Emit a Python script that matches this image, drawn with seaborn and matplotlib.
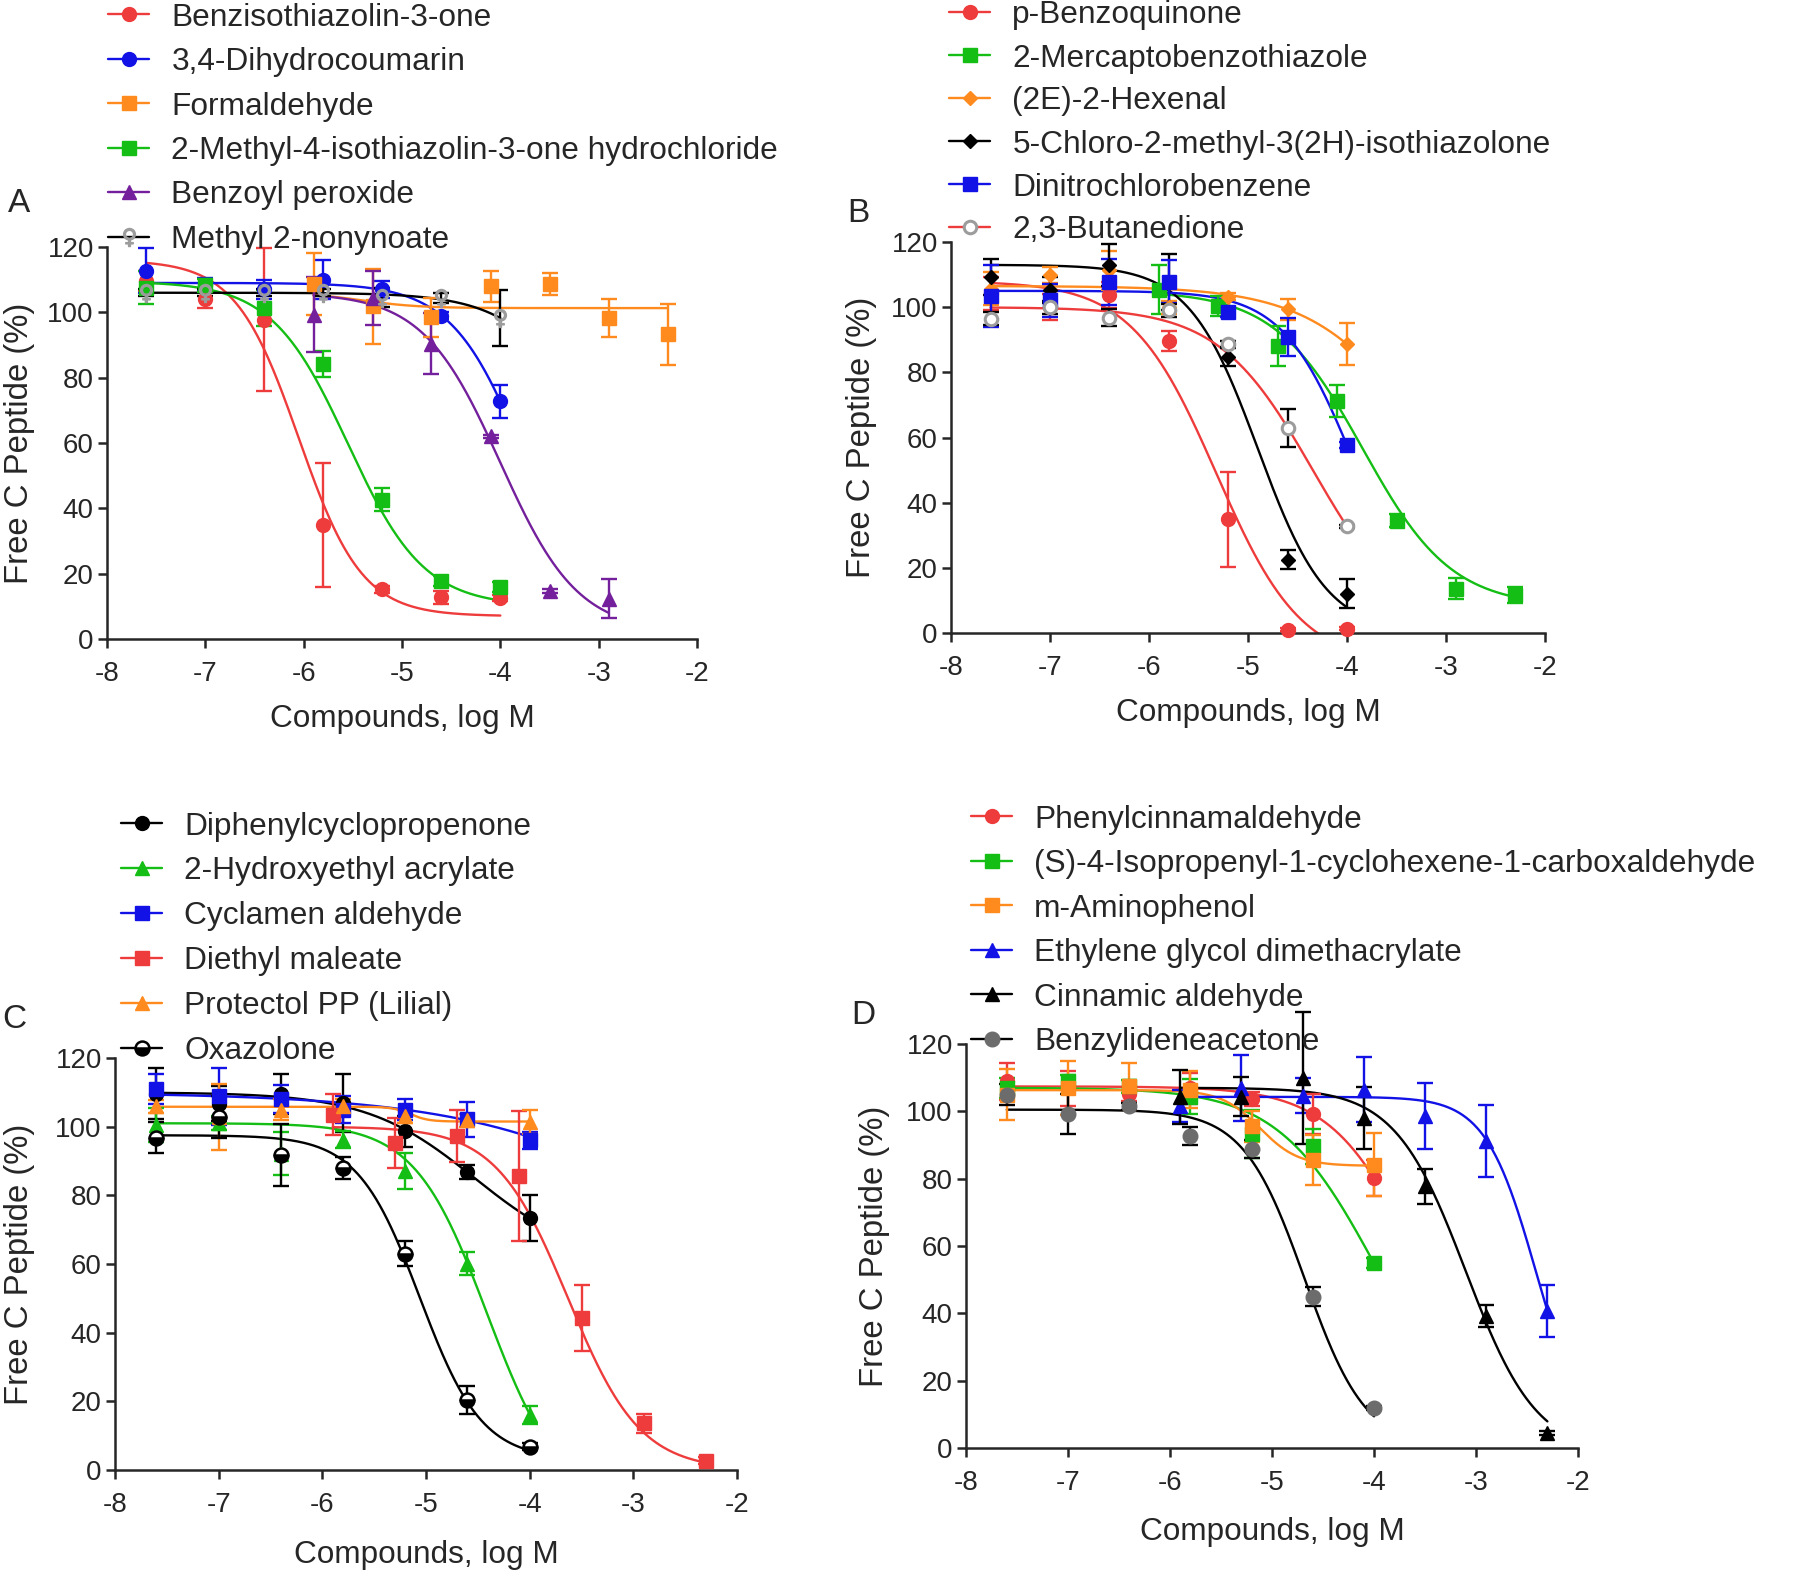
import matplotlib
matplotlib.use("Agg")

import matplotlib.pyplot as plt
from matplotlib.lines import Line2D
import numpy as np
import seaborn as sns

# concentration grids (log M)
x_std = [-7.6, -7.0, -6.4, -5.8, -5.2, -4.6, -4.0]
x_hi = [-5.9, -5.3, -4.7, -4.1, -3.5, -2.9, -2.3]

# fit parameters are (top, bottom, logIC50, hill)
# ---- panel A
bit_y = [109.5, 104.2, 97.8, 34.9, 15.2, 12.8, 12.6]
bit_err = [3, 3, 22, 19, 1, 2, 1]
bit_fit = (116, 7, -6.05, 1.35)
dhc_y = [112.8, 108.5, 107, 110, 107, 99, 72.8]
dhc_err = [7, 2, 3, 6, 2.5, 1, 5]
dhc_fit = (109, 0, -3.74, 1.16)
form_y = [108.7, 101.8, 98.5, 108, 108.7, 98.3, 93.3]
form_err = [9.5, 11.5, 6, 4.8, 3.3, 5.7, 9.3]
form_fit = (106, 101.3, -5.4, 1.5)
mit_y = [107.5, 108.3, 101.3, 84.1, 42.6, 17.7, 16]
mit_err = [5, 2, 5.5, 4, 3.5, 1.5, 1.5]
mit_fit = (109.5, 10, -5.55, 1.12)
bpo_x = [-5.9, -5.3, -4.7, -4.1, -3.5, -2.9]
bpo_y = [99.3, 104.4, 90.4, 62, 14.7, 12.3]
bpo_err = [11.4, 8.2, 9.3, 0.5, 0.5, 6]
bpo_fit = (106, 2, -4.0, 1.1)
mno_y = [106, 106, 106, 106, 104.5, 104.5, 98.3]
mno_err = [1, 1, 1, 1, 3, 1.5, 8.5]
mno_fit = (106, 0, -2.9, 1.0)

# ---- panel B
pbq_y = [104.2, 100.1, 103.7, 89.7, 34.9, 1.0, 1.3]
pbq_err = [5, 4, 4, 3, 14.5, 0.5, 0.5]
pbq_fit = (108, -10, -5.32, 1.01)
mbt_y = [105.4, 100.3, 88.1, 71.2, 34.4, 13.6, 11.7]
mbt_err = [7.5, 3, 6.2, 5, 2, 3.3, 2.5]
mbt_fit = (105, 8, -3.84, 0.97)
hex_y = [105.7, 109.8, 111.3, 99.9, 103.2, 99.3, 88.6]
hex_err = [5, 2.5, 6, 2, 1, 3.3, 6.4]
hex_fit = (106.5, 0, -3.06, 0.74)
cmi_y = [109.3, 105.2, 112.9, 107.8, 84.8, 22.5, 12.1]
cmi_err = [5.5, 4, 6.5, 8.6, 3, 3, 4.4]
cmi_fit = (113, 0, -4.9, 1.25)
dncb_y = [103.4, 102.1, 107.8, 107.8, 98.6, 90.9, 57.7]
dncb_err = [9.5, 5, 7, 6.6, 1.5, 5.8, 1]
dncb_fit = (105, 0, -3.93, 1.21)
btd_y = [96.5, 100, 96.8, 99, 88.6, 63, 32.7]
btd_err = [2, 2, 2.5, 2, 1, 5.9, 0.5]
btd_fit = (100, 0, -4.345, 0.91)

# ---- panel C
dpcp_y = [109.6, 106.7, 109.6, 106.9, 98.6, 86.8, 73.4]
dpcp_err = [7.5, 5, 5.8, 8.5, 4.4, 1.9, 6.7]
dpcp_fit = (110, 60, -4.53, 0.83)
hea_y = [100.4, 101, 92.1, 96.2, 87.1, 60.1, 16.0]
hea_err = [5, 2, 6.3, 2.5, 5.3, 3.3, 2.5]
hea_fit = (101, -10, -4.41, 1.24)
cyc_y = [111, 108.8, 108, 105, 105, 102.1, 96.0]
cyc_err = [4.4, 8.2, 4, 4, 3.2, 5, 2.4]
cyc_fit = (110, 0, -1.64, 0.37)
dem_y = [103.5, 95.2, 97.2, 85.6, 44.4, 13.6, 2.7]
dem_err = [6, 7.3, 7.6, 18.9, 9.6, 2.7, 1]
dem_fit = (100, 0, -3.63, 1.25)
lil_y = [105.9, 102.8, 105, 106, 103, 101.8, 101.4]
lil_err = [2, 9.7, 3, 2, 2, 2, 3.5]
lil_fit = (105.8, 101.5, -5.15, 5)
oxa_y = [96.8, 102.8, 91.7, 88.0, 63.0, 20.4, 6.8]
oxa_err = [4.5, 6, 9, 3.2, 3.7, 4.1, 1]
oxa_fit = (97.5, 3, -5.06, 1.45)

# ---- panel D
pca_y = [108.9, 106.9, 105.2, 106.9, 103.7, 99.2, 80.2]
pca_err = [5.4, 5.2, 2, 4.6, 2, 6, 5.2]
pca_fit = (107.4, 0, -3.54, 1.02)
ipc_y = [106.9, 108.9, 107.4, 104.3, 93.3, 89.6, 55.0]
ipc_err = [3, 2, 2, 5.2, 7.2, 5.3, 1.5]
ipc_fit = (107, 0, -3.975, 0.9)
map_y = [105, 106.9, 107.4, 106.4, 95.5, 85.6, 84.2]
map_err = [7.5, 8, 7, 5.5, 4.5, 7.5, 9.4]
map_fit = (106.3, 83.8, -5.12, 2.3)
egd_y = [101.5, 106.9, 104.7, 106.4, 98.5, 91.3, 40.6]
egd_err = [4.7, 9.9, 5.2, 9.6, 9.8, 10.7, 7.7]
egd_fit = (104.3, 0, -2.41, 1.75)
cin_y = [104.3, 104.3, 110, 98, 77.7, 39.3, 4.5]
cin_err = [8, 5.8, 19.6, 9.2, 5.3, 3.3, 0.5]
cin_fit = (107, -2, -3.1, 1.25)
bza_y = [105, 99.2, 101.5, 92.6, 88.8, 45, 11.9]
bza_err = [3, 5.9, 1, 2.7, 2.8, 2.7, 0.5]
bza_fit = (100.5, 0, -4.68, 1.45)

RED = "#EE3B3B"
BLUE = "#1212E6"
GREEN = "#14BE14"
ORANGE = "#FF8A1E"
PURPLE = "#74209C"
BLACK = "#000000"
GRAY = "#9C9C9C"
DGRAY = "#6C6C6C"

W, H = 1800, 1578

sns.set_style("ticks")
plt.rcParams["font.family"] = ["Liberation Sans", "DejaVu Sans"]
plt.rcParams["axes.unicode_minus"] = False

fig = plt.figure(figsize=(W / 100, H / 100), dpi=100)


def series(label, x, y, err, fit, line, mk, mcol, ms=10, mfc=None, ecol=None, **kw):
    return dict(label=label, x=x, y=y, err=err, fit=fit, line=line, mk=mk,
                mcol=mcol, ms=ms, mfc=mcol if mfc is None else mfc,
                ecol=mcol if ecol is None else ecol, kw=kw)


panels = [
    dict(letter="A", rect=(107, 697, 247, 639), leg=(108, 16), let=(19, 204), ylx=17,
         gap=44, xl=65, items=[
        series("Benzisothiazolin-3-one", x_std, bit_y, bit_err, bit_fit, RED, "o", RED),
        series("3,4-Dihydrocoumarin", x_std, dhc_y, dhc_err, dhc_fit, BLUE, "o", BLUE),
        series("Formaldehyde", x_hi, form_y, form_err, form_fit, ORANGE, "s", ORANGE, 9.5),
        series("2-Methyl-4-isothiazolin-3-one hydrochloride", x_std, mit_y, mit_err, mit_fit,
               GREEN, "s", GREEN, 9.5),
        series("Benzoyl peroxide", bpo_x, bpo_y, bpo_err, bpo_fit, PURPLE, "^", PURPLE),
        series("Methyl 2-nonynoate", x_std, mno_y, mno_err, mno_fit, BLACK, "$\u2640$", GRAY, 13,
               ecol=BLACK),
    ]),
    dict(letter="B", rect=(951, 1545, 242, 633), leg=(949, 14), let=(858, 214), ylx=859,
         gap=42.5, xl=65, items=[
        series("p-Benzoquinone", x_std, pbq_y, pbq_err, pbq_fit, RED, "o", RED),
        series("2-Mercaptobenzothiazole", x_hi, mbt_y, mbt_err, mbt_fit, GREEN, "s", GREEN, 9.5),
        series("(2E)-2-Hexenal", x_std, hex_y, hex_err, hex_fit, ORANGE, "D", ORANGE, 7),
        series("5-Chloro-2-methyl-3(2H)-isothiazolone", x_std, cmi_y, cmi_err, cmi_fit,
               BLACK, "D", BLACK, 7),
        series("Dinitrochlorobenzene", x_std, dncb_y, dncb_err, dncb_fit, BLUE, "s", BLUE, 9.5),
        series("2,3-Butanedione", x_std, btd_y, btd_err, btd_fit, RED, "o", GRAY, 9, mfc="white",
               ecol=BLACK, mew=2.2),
    ]),
    dict(letter="C", rect=(115, 737, 1058, 1470), leg=(121, 825), let=(14, 1019), ylx=17,
         gap=44.4, xl=70, items=[
        series("Diphenylcyclopropenone", x_std, dpcp_y, dpcp_err, dpcp_fit, BLACK, "o", BLACK),
        series("2-Hydroxyethyl acrylate", x_std, hea_y, hea_err, hea_fit, GREEN, "^", GREEN),
        series("Cyclamen aldehyde", x_std, cyc_y, cyc_err, cyc_fit, BLUE, "s", BLUE, 9.5),
        series("Diethyl maleate", x_hi, dem_y, dem_err, dem_fit, RED, "s", RED, 9.5),
        series("Protectol PP (Lilial)", x_std, lil_y, lil_err, lil_fit, ORANGE, "^", ORANGE),
        series("Oxazolone", x_std, oxa_y, oxa_err, oxa_fit, BLACK, "o", BLACK, 10,
               fillstyle="bottom", markerfacecoloralt="white", mew=1.8),
    ]),
    dict(letter="D", rect=(966, 1578, 1044, 1448), leg=(971, 818), let=(863, 1015), ylx=872,
         gap=44, xl=69, items=[
        series("Phenylcinnamaldehyde", x_std, pca_y, pca_err, pca_fit, RED, "o", RED),
        series("(S)-4-Isopropenyl-1-cyclohexene-1-carboxaldehyde", x_std, ipc_y, ipc_err, ipc_fit,
               GREEN, "s", GREEN, 9.5),
        series("m-Aminophenol", x_std, map_y, map_err, map_fit, ORANGE, "s", ORANGE, 9.5),
        series("Ethylene glycol dimethacrylate", x_hi, egd_y, egd_err, egd_fit, BLUE, "^", BLUE),
        series("Cinnamic aldehyde", x_hi, cin_y, cin_err, cin_fit, BLACK, "^", BLACK),
        series("Benzylideneacetone", x_std, bza_y, bza_err, bza_fit, BLACK, "o", DGRAY, 10.5,
               ecol=BLACK),
    ]),
]

LEG_FS = 22.8
for p in panels:
    L, R, T, B = p["rect"]
    ax = fig.add_axes([L / W, 1 - B / H, (R - L) / W, (B - T) / H])
    handles = []
    for s in p["items"]:
        top, bot, c, h = s["fit"]
        xs = np.linspace(min(s["x"]), max(s["x"]), 300)
        ys = bot + (top - bot) / (1 + 10 ** ((xs - c) * h))
        sns.lineplot(x=xs, y=ys, ax=ax, color=s["line"], lw=1.7, legend=False, zorder=2)
        ax.errorbar(s["x"], s["y"], yerr=s["err"], fmt="none", ecolor=s["ecol"],
                    elinewidth=1.7, capsize=5.5, capthick=1.7, zorder=3, clip_on=False)
        mk_kw = dict(ls="none", marker=s["mk"], ms=s["ms"], mfc=s["mfc"], mec=s["mcol"])
        mk_kw.update(s["kw"])
        ax.plot(s["x"], s["y"], zorder=4, clip_on=False, **mk_kw)
        handles.append(Line2D([0], [0], color=s["line"], lw=1.7, **mk_kw | {"ls": "-"}))

    ax.set_xlim(-8, -2)
    ax.set_ylim(0, 120)
    ax.set_xticks(range(-8, -1))
    ax.set_yticks(range(0, 121, 20))
    sns.despine(ax=ax)
    for sp in ("left", "bottom"):
        ax.spines[sp].set_linewidth(1.8)
    ax.tick_params(axis="both", direction="out", length=6.5, width=1.8, labelsize=20)
    ax.tick_params(axis="y", pad=3)
    ax.tick_params(axis="x", pad=9)

    ax.set_xlabel("Compounds, log M", fontsize=22.7)
    ax.xaxis.set_label_coords(0.5, -p["xl"] / (B - T))
    ax.set_ylabel("Free C Peptide (%)", fontsize=23.7)
    ax.yaxis.set_label_coords((p["ylx"] + 18 - L) / (R - L), 0.5)

    lx, ly = p["leg"]
    fs_px = LEG_FS * 100 / 72
    fig.legend(handles, [s["label"] for s in p["items"]], loc="upper left",
               bbox_to_anchor=(lx / W, 1 - (ly - 13.5) / H), frameon=False,
               fontsize=LEG_FS, handlelength=1.3, handletextpad=0.7,
               labelspacing=(p["gap"] - 29.5) / fs_px, borderpad=0, borderaxespad=0,
               numpoints=1)

    tx, ty = p["let"]
    fig.text(tx / W, 1 - ty / H, p["letter"], fontsize=24, ha="center", va="center")

fig.savefig("out.png", dpi=100)
